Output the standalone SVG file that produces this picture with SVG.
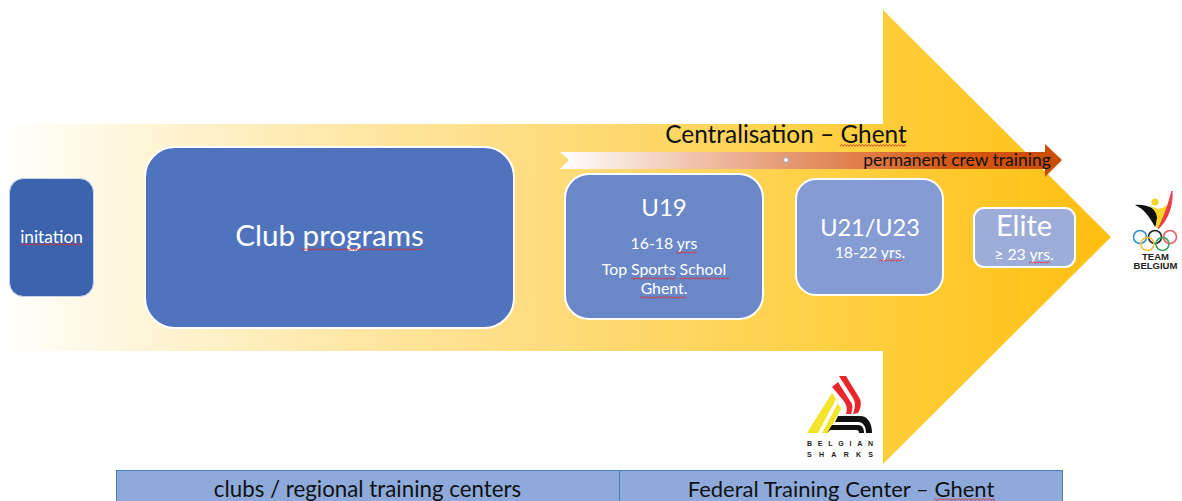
<svg xmlns="http://www.w3.org/2000/svg" width="1182" height="501" viewBox="0 0 1182 501">
<style>
text{font-family:Lato,"Open Sans",sans-serif;text-anchor:middle}
.w{fill:#fff}
.k{fill:#111}
.box{stroke:#fff;stroke-width:2}
.sq{fill:url(#squiggle)}
.cell{fill:#8eaadb;stroke:#4a7ebb;stroke-width:1}
.logo{font-family:"Liberation Sans",Arial,sans-serif;font-weight:700;fill:#222}
</style>
<defs>
<linearGradient id="gold" gradientUnits="userSpaceOnUse" x1="0" y1="0" x2="1111" y2="0">
<stop offset="0" stop-color="#ffd966" stop-opacity="0"/>
<stop offset=".48" stop-color="#ffdc80"/>
<stop offset=".75" stop-color="#ffd043"/>
<stop offset="1" stop-color="#ffbf10"/>
</linearGradient>
<linearGradient id="orange" gradientUnits="userSpaceOnUse" x1="560" y1="0" x2="1062" y2="0">
<stop offset="0" stop-color="#fff"/>
<stop offset=".45" stop-color="#e69a73"/>
<stop offset=".8" stop-color="#d4550f"/>
<stop offset="1" stop-color="#c94c05"/>
</linearGradient>
<pattern id="squiggle" width="3" height="3" patternUnits="userSpaceOnUse">
<path d="M0 2.200L1.500 .8L3 2.200" fill="none" stroke="#e02a2a" stroke-width=".9"/>
</pattern>
</defs>

<g id="big-arrow"><path d="M0 124H883V10L1111 237L883 464V351H0Z" fill="url(#gold)"/></g>

<g id="connectors">
<path id="crew-arrow" d="M560 152H1045V144L1062 160L1045 177V169H560L569 160Z" fill="url(#orange)"/>
<circle cx="786" cy="160" r="2.400" fill="#fff" stroke="#8a94c8" stroke-width=".8"/>
</g>

<g id="centralisation">
<text x="786" y="143" font-size="24.400" class="k">Centralisation – Ghent</text>
<rect width="66" height="3" class="sq" transform="translate(840 144)"/>
</g>
<g id="crew-label"><text x="957" y="166" font-size="17.500" class="k">permanent crew training</text></g>

<g id="initation">
<rect x="9.500" y="178.500" width="84" height="118" rx="14" fill="#3c64ae" stroke="#c8d4ea" stroke-width="1"/>
<text x="51.500" y="243" font-size="17.300" class="w">initation</text>
<rect width="63" height="3" class="sq" transform="translate(20 243)"/>
</g>

<g id="club-programs">
<rect x="145" y="147" width="369" height="181" rx="30" fill="#4f74bd" class="box"/>
<text x="329.500" y="246" font-size="29.600" class="w">Club programs</text>
<rect width="122" height="3" class="sq" transform="translate(301 248)"/>
</g>

<g id="u19">
<rect x="565" y="174" width="198" height="145" rx="24" fill="#6a88c8" class="box"/>
<text x="664" y="216" font-size="24" class="w">U19</text>
<text x="664" y="249" font-size="15.800" class="w">16-18 yrs</text>
<rect width="21" height="3" class="sq" transform="translate(676 251)"/>
<text x="664" y="275" font-size="15.800" class="w">Top Sports School</text>
<rect width="45" height="3" class="sq" transform="translate(631 277)"/>
<rect width="49" height="3" class="sq" transform="translate(680 277)"/>
<text x="664" y="294" font-size="15.800" class="w">Ghent.</text>
<rect width="46" height="3" class="sq" transform="translate(640 296)"/>
</g>

<g id="u21">
<rect x="796" y="179" width="147" height="116" rx="20" fill="#849bd3" class="box"/>
<text x="870" y="236" font-size="23.500" class="w">U21/U23</text>
<text x="870" y="258" font-size="15.800" class="w">18-22 yrs.</text>
<rect width="23" height="3" class="sq" transform="translate(879 259)"/>
</g>

<g id="elite">
<rect x="974" y="208" width="101" height="59" rx="10" fill="#9dadd9" class="box"/>
<text x="1024" y="236" font-size="29" class="w">Elite</text>
<text x="1024" y="260" font-size="15.800" class="w">≥ 23 yrs.</text>
<rect width="21" height="3" class="sq" transform="translate(1029 261)"/>
</g>

<g id="team-belgium">
<path d="M1135 205C1146 204 1154 208 1159 214C1161 219 1157 221 1155 227C1149 216 1144 209 1135 205Z" fill="#111"/>
<path d="M1148 205L1158 209C1164 208 1166 206 1171 203C1169 213 1165 222 1158 228C1155 229 1156 222 1157 218C1157 213 1153 208 1148 205Z" fill="#f5d327"/>
<circle cx="1155" cy="202" r="3.500" fill="#f5d327"/>
<path d="M1172 191C1173 205 1168 220 1158 229C1165 215 1168 205 1172 191Z" fill="#ef3b45" stroke="#ef3b45"/>
<g fill="none" stroke-width="1.600">
<circle cx="1140" cy="237" r="6.500" stroke="#2f8fd0"/>
<circle cx="1155" cy="237" r="6.500" stroke="#222"/>
<circle cx="1170" cy="237" r="6.500" stroke="#ef5b66"/>
<circle cx="1147.500" cy="244" r="6.500" stroke="#f5c040"/>
<circle cx="1162.500" cy="244" r="6.500" stroke="#3da55a"/>
</g>
<text x="1155.500" y="260" font-size="9.500" class="logo">TEAM</text>
<text x="1155.500" y="269" font-size="9.500" class="logo">BELGIUM</text>
</g>

<g id="belgian-sharks">
<path d="M832 393L836 399L818 433H807Z" fill="#f5e32a"/>
<path d="M838 403L841 409L828 433H822Z" fill="#f5e32a"/>
<path d="M839 376L846 376L860 399C862 404 860 410 858 413L853 414C855 408 856 403 853 398Z" fill="#e8262c"/>
<path d="M832 387L838 382L852 404C853 408 852 411 851 414L846 414C848 408 846 404 843 400Z" fill="#e8262c"/>
<path d="M838 416H860C867 416 872 422 872 433H866C866 426 863 422 858 422H835Z" fill="#111"/>
<path d="M832 425H858C862 425 864 428 864 433H859C859 431 858 430 856 430H830L827 433Z" fill="#111"/>
<text x="840" y="446" font-size="7" textLength="66" class="logo">BELGIAN</text>
<text x="840" y="457" font-size="7" textLength="66" class="logo">SHARKS</text>
</g>

<g id="table">
<rect class="cell" x="116.500" y="470.500" width="503" height="40"/>
<rect class="cell" x="619.500" y="470.500" width="443" height="40"/>
<text x="367.500" y="497" font-size="22.300" class="k">clubs / regional training centers</text>
<text x="841" y="497" font-size="22" class="k">Federal Training Center – Ghent</text>
<rect width="61" height="3" class="sq" transform="translate(934 498)"/>
</g>
</svg>
